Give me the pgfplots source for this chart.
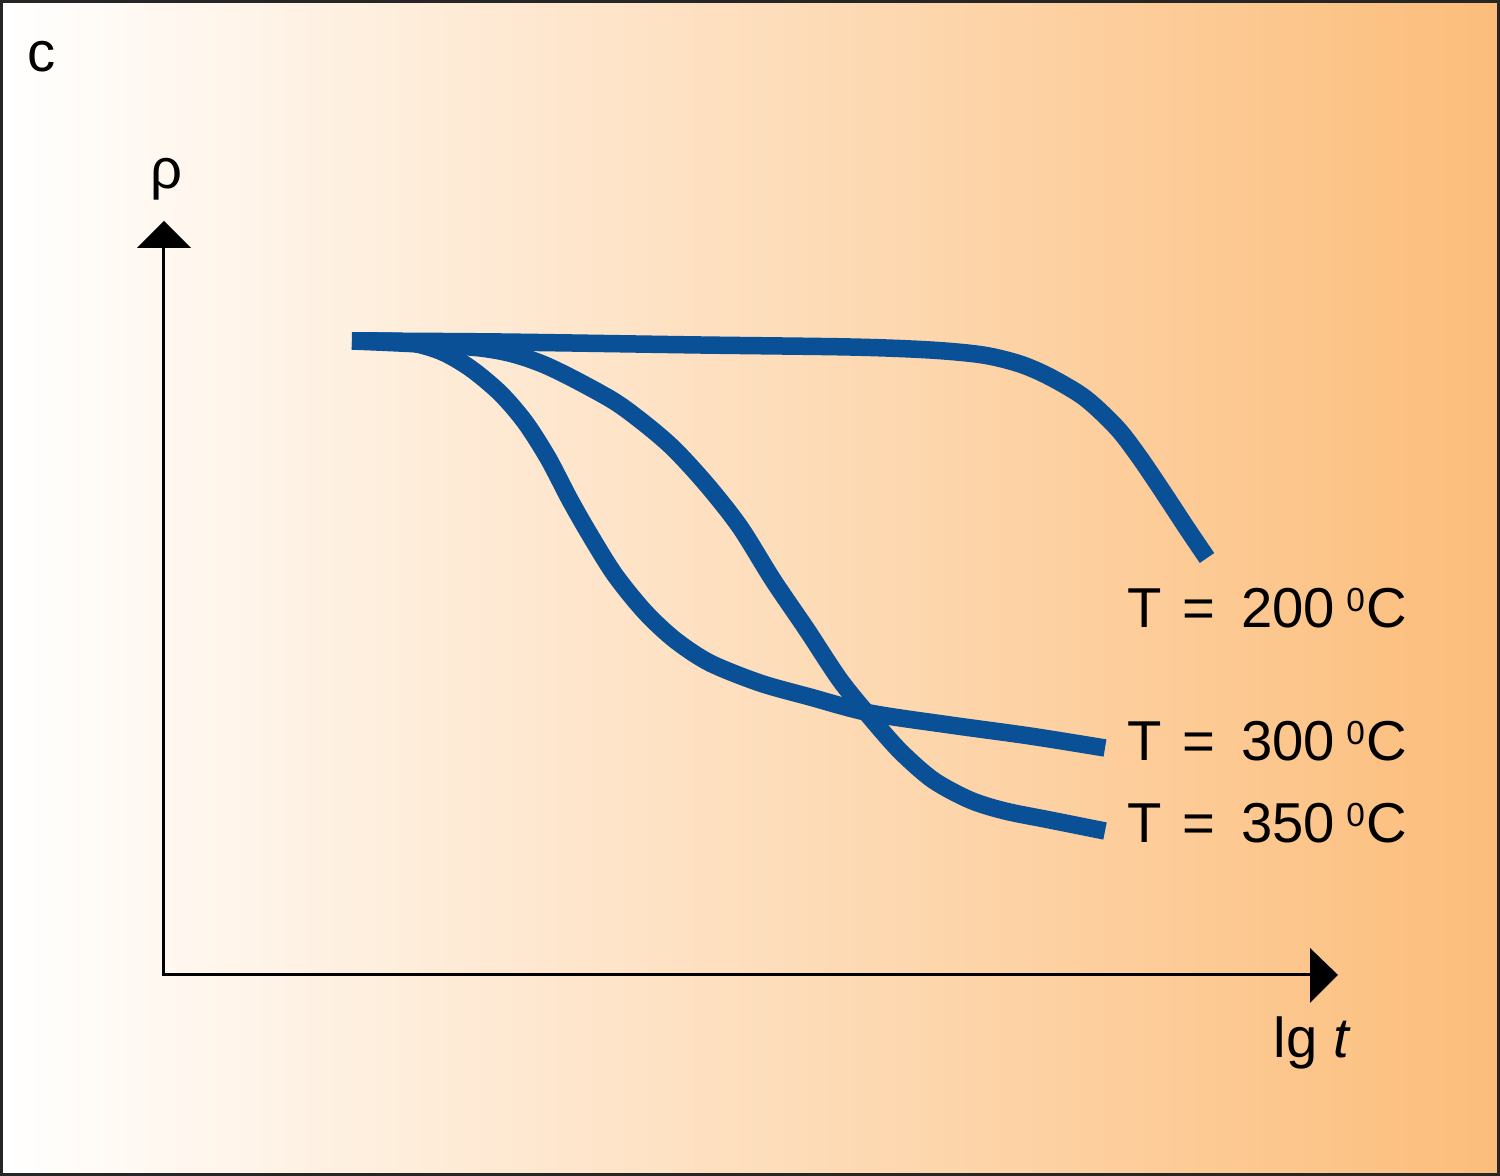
\documentclass[border=0pt]{standalone}
\usepackage{pgfplots}
\pgfplotsset{compat=1.18}
\usepackage{fontspec}
\setmainfont{Liberation Sans}
\usetikzlibrary{arrows.meta}
\definecolor{curveblue}{RGB}{10,80,150}
\definecolor{bgorange}{RGB}{252,189,122}
\pgfplotsset{curvestyle/.style={draw=curveblue, line width=1.75mm, line cap=butt, line join=round, smooth, tension=0.5, mark=none}}
\newcommand{\supzero}{\raisebox{4.7pt}{\fontsize{9.5}{10}\selectfont 0}}
\begin{document}
\begin{tikzpicture}
\shade[left color=white, right color=bgorange] (0,0) rectangle (15cm,11.76cm);
\begin{axis}[at={(0,0)}, anchor=south west, width=15cm, height=11.76cm,
  scale only axis, xmin=0, xmax=1500, ymin=0, ymax=1176, y dir=reverse,
  axis lines=none, ticks=none, clip=false]
% axes
\draw[line width=0.3mm] (axis cs:163,975) -- (axis cs:163,246);
\draw[line width=0.3mm] (axis cs:162,975) -- (axis cs:1312,975);
\fill (axis cs:137,248) -- (axis cs:191,248) -- (axis cs:164,221) -- cycle;
\fill (axis cs:1310,948) -- (axis cs:1310,1003) -- (axis cs:1338,975) -- cycle;
% T = 200
\addplot[curvestyle] coordinates {(352,341) (500,342) (700,345) (850,347) (930,350) (983,355) (1020,364) (1050,377) (1085,398) (1117,428) (1140,458) (1165,495) (1188,530) (1207,558)};
% T = 300
\addplot[curvestyle] coordinates {(352,341) (405,342) (440,351) (470,368) (500,393) (525,422) (548,458) (570,500) (590,535) (615,575) (645,612) (675,640) (710,663) (760,683) (810,697) (870,713) (950,725) (1030,736) (1105,748)};
% T = 350
\addplot[curvestyle] coordinates {(352,341) (480,348) (540,363) (607,397) (640,420) (673,448) (707,485) (740,527) (773,580) (807,630) (840,680) (870,717) (900,751) (933,780) (970,800) (1005,811) (1050,820) (1105,831)};
% labels
\node[anchor=base west, inner sep=0pt, font=\fontsize{16}{19}\selectfont] at (axis cs:26.8,72) {c};
\node[anchor=base west, inner sep=0pt, font=\fontsize{16}{19}\selectfont] at (axis cs:150,189) {ρ};
\node[anchor=base west, inner sep=0pt, font=\fontsize{16}{19}\selectfont] at (axis cs:1273,1058) {lg \textit{t}};
\node[anchor=base west, inner sep=0pt, font=\fontsize{16}{19}\selectfont] at (axis cs:1126.7,628) {T\hspace{0.375em}=\hspace{0.457em}200\hspace{0.2em}\supzero\hspace{0.03em}C};
\node[anchor=base west, inner sep=0pt, font=\fontsize{16}{19}\selectfont] at (axis cs:1126.7,761) {T\hspace{0.375em}=\hspace{0.457em}300\hspace{0.2em}\supzero\hspace{0.03em}C};
\node[anchor=base west, inner sep=0pt, font=\fontsize{16}{19}\selectfont] at (axis cs:1126.7,843) {T\hspace{0.375em}=\hspace{0.457em}350\hspace{0.2em}\supzero\hspace{0.03em}C};
\end{axis}
\draw[line width=0.3mm, black!85] (0.15mm,0.15mm) rectangle (15cm-0.15mm,11.76cm-0.15mm);
\pgfresetboundingbox
\path[use as bounding box] (0,0) rectangle (15cm,11.76cm);
\end{tikzpicture}
\end{document}
